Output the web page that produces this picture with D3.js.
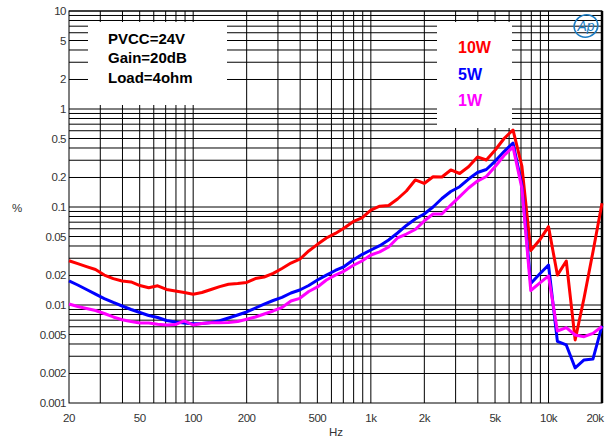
<!DOCTYPE html>
<html>
<head>
<meta charset="utf-8">
<script src="https://cdn.jsdelivr.net/npm/d3@7/dist/d3.min.js"></script>
<style>
  body { margin: 0; background: #fff; }
  svg { display: block; font-family: "Liberation Sans", Arial, sans-serif; }
</style>
</head>
<body>
<div id="chart"></div>
<script>
// sweep frequencies (Hz), 1/20 decade steps
var freqs = [20, 22.4, 25.1, 28.2, 31.6, 35.5, 39.8, 44.7, 50.1, 56.2,
    63.1, 70.8, 79.4, 89.1, 100, 112, 126, 141, 158, 178,
    200, 224, 251, 282, 316, 355, 398, 447, 501, 562,
    631, 708, 794, 891, 1000, 1122, 1259, 1413, 1585, 1778,
    1995, 2239, 2512, 2818, 3162, 3548, 3981, 4467, 5012, 5623,
    6310, 7079, 7943, 8913, 10000, 11220, 12589, 14125, 15849, 17783, 20000];

// THD+N in %
var thd10W = [0.0283, 0.0264, 0.0246, 0.0230, 0.0202, 0.0186, 0.0176, 0.0172, 0.0158, 0.0150,
    0.0157, 0.0144, 0.0139, 0.0134, 0.0129, 0.0134, 0.0144, 0.0154, 0.0163, 0.0166,
    0.0170, 0.0186, 0.0193, 0.0210, 0.0236, 0.0268, 0.0293, 0.0356, 0.0416, 0.0483,
    0.0537, 0.0611, 0.0708, 0.0773, 0.0931, 0.102, 0.1035, 0.1207, 0.1456, 0.1887,
    0.1738, 0.2038, 0.2023, 0.2387, 0.2198, 0.2576, 0.3236, 0.3020, 0.3819, 0.500,
    0.611, 0.262, 0.0360, 0.0460, 0.0630, 0.0202, 0.0281, 0.00440, 0.01178, 0.0348, 0.109];

var thd5W = [0.0176, 0.0160, 0.0144, 0.0129, 0.01164, 0.01061, 0.00977, 0.00900, 0.00838, 0.00781,
    0.00745, 0.00695, 0.00671, 0.00655, 0.00643, 0.00647, 0.00662, 0.00691, 0.00737, 0.00791,
    0.00849, 0.00932, 0.01023, 0.01111, 0.01194, 0.01325, 0.01422, 0.0158, 0.0180, 0.0202,
    0.0225, 0.0247, 0.0288, 0.0327, 0.0364, 0.0403, 0.0460, 0.0543, 0.0648, 0.0755,
    0.0849, 0.100, 0.122, 0.144, 0.161, 0.193, 0.225, 0.2415, 0.294, 0.368,
    0.450, 0.1675, 0.01656, 0.0207, 0.0256, 0.00425, 0.00391, 0.00228, 0.00275, 0.00281, 0.00611];

var thd1W = [0.01023, 0.00966, 0.00921, 0.00879, 0.00819, 0.00755, 0.00708, 0.00679, 0.00655, 0.00655,
    0.00635, 0.00625, 0.00632, 0.00687, 0.00625, 0.00647, 0.00659, 0.00659, 0.00662, 0.00679,
    0.00715, 0.00755, 0.00810, 0.00869, 0.00943, 0.0110, 0.01170, 0.01373, 0.01528, 0.0180,
    0.0202, 0.0222, 0.0253, 0.0281, 0.0324, 0.0348, 0.0391, 0.0483, 0.0530, 0.0589,
    0.0719, 0.0849, 0.0849, 0.1047, 0.1274, 0.1563, 0.184, 0.2046, 0.259, 0.3357,
    0.409, 0.156, 0.01406, 0.01675, 0.0198, 0.00543, 0.00589, 0.00494, 0.00475, 0.00514, 0.00604];

var seriesNames = ["10W", "5W", "1W"];
var seriesColors = ["#ff0000", "#0000ff", "#ff00ff"];

var xTickValues = [20, 50, 100, 200, 500, 1000, 2000, 5000, 10000, 20000];
var xTickLabels = ["20", "50", "100", "200", "500", "1k", "2k", "5k", "10k", "20k"];
var yTickValues = [10, 5, 2, 1, 0.5, 0.2, 0.1, 0.05, 0.02, 0.01, 0.005, 0.002, 0.001];
var yTickLabels = ["10", "5", "2", "1", "0.5", "0.2", "0.1", "0.05", "0.02", "0.01", "0.005", "0.002", "0.001"];

var conditions = ["PVCC=24V", "Gain=20dB", "Load=4ohm"];

var width = 606, height = 444;
var plotL = 69, plotR = 602, plotT = 11, plotB = 403;

var svg = d3.select("#chart").append("svg")
    .attr("width", width).attr("height", height);

var x = d3.scaleLog().domain([20, 20000]).range([plotL, plotR]);
var y = d3.scaleLog().domain([0.001, 10]).range([plotB, plotT]);

// log grid, 1..9 per decade
var gridX = [], gridY = [];
[10, 100, 1000, 10000].forEach(function(d) {
    for (var k = 1; k <= 9; k++) {
        var v = d * k;
        if (v > 20 && v < 20000) gridX.push(v);
    }
});
[0.001, 0.01, 0.1, 1].forEach(function(d) {
    for (var k = 1; k <= 9; k++) {
        var v = d * k;
        if (v > 0.001) gridY.push(v);
    }
});
gridY.push(10);

var grid = svg.append("g").attr("stroke", "#000").attr("stroke-width", 1);
grid.selectAll("line.gx").data(gridX).enter().append("line")
    .attr("class", "gx")
    .attr("x1", function(d) { return x(d); }).attr("x2", function(d) { return x(d); })
    .attr("y1", plotT).attr("y2", plotB);
grid.selectAll("line.gy").data(gridY).enter().append("line")
    .attr("class", "gy")
    .attr("x1", plotL).attr("x2", plotR)
    .attr("y1", function(d) { return y(d); }).attr("y2", function(d) { return y(d); });

// frame
svg.append("rect")
    .attr("x", plotL).attr("y", plotT)
    .attr("width", plotR - plotL).attr("height", plotB - plotT)
    .attr("fill", "none").attr("stroke", "#000").attr("stroke-width", 1);
svg.append("line")
    .attr("x1", plotR).attr("x2", plotR).attr("y1", plotT).attr("y2", plotB)
    .attr("stroke", "#000").attr("stroke-width", 2.5);

// white legend boxes over the grid
svg.append("rect").attr("x", 88).attr("y", 22).attr("width", 139).attr("height", 83).attr("fill", "#fff");
svg.append("rect").attr("x", 437).attr("y", 22).attr("width", 75).attr("height", 106).attr("fill", "#fff");

// curves
var line = d3.line()
    .x(function(d) { return x(d[0]); })
    .y(function(d) { return y(d[1]); });

var allSeries = [thd10W, thd5W, thd1W];
allSeries.forEach(function(vals, ii) {
    var pts = freqs.map(function(f, jj) { return [f, vals[jj]]; });
    svg.append("path")
        .datum(pts)
        .attr("d", line)
        .attr("fill", "none")
        .attr("stroke", seriesColors[ii])
        .attr("stroke-width", 3)
        .attr("stroke-linejoin", "round");
});

// axis labels
svg.selectAll("text.ytick").data(yTickValues).enter().append("text")
    .attr("class", "ytick")
    .attr("x", 66)
    .attr("y", function(d) { return y(d) + 4; })
    .attr("text-anchor", "end")
    .attr("font-size", "11.5px")
    .attr("letter-spacing", "-0.5px")
    .attr("fill", "#333")
    .text(function(d, i) { return yTickLabels[i]; });

svg.selectAll("text.xtick").data(xTickValues).enter().append("text")
    .attr("class", "xtick")
    .attr("x", function(d) { return Math.min(x(d), 595); })
    .attr("y", 422)
    .attr("text-anchor", "middle")
    .attr("font-size", "11.5px")
    .attr("letter-spacing", "-0.5px")
    .attr("fill", "#333")
    .text(function(d, i) { return xTickLabels[i]; });

svg.append("text").attr("x", 17).attr("y", 212).attr("text-anchor", "middle")
    .attr("font-size", "11.5px").attr("fill", "#333").text("%");
svg.append("text").attr("x", 336).attr("y", 436).attr("text-anchor", "middle")
    .attr("font-size", "11.5px").attr("fill", "#333").text("Hz");

// test conditions
svg.selectAll("text.cond").data(conditions).enter().append("text")
    .attr("class", "cond")
    .attr("x", 108)
    .attr("y", function(d, i) { return 44 + i * 19.3; })
    .attr("font-size", "15px").attr("font-weight", "bold").attr("fill", "#000")
    .text(function(d) { return d; });

// series legend
svg.selectAll("text.leg").data(seriesNames).enter().append("text")
    .attr("class", "leg")
    .attr("x", 458)
    .attr("y", function(d, i) { return 53.3 + i * 26.2; })
    .attr("font-size", "16px").attr("font-weight", "bold")
    .attr("fill", function(d, i) { return seriesColors[i]; })
    .text(function(d) { return d; });

// AP logo
var logo = svg.append("g").attr("transform", "translate(586,26)");
logo.append("ellipse").attr("rx", 12).attr("ry", 11)
    .attr("fill", "none").attr("stroke", "#1a7cc4").attr("stroke-width", 1.5)
    .attr("transform", "rotate(-20)");
logo.append("text").attr("x", 0).attr("y", 5).attr("text-anchor", "middle")
    .attr("font-size", "14px").attr("font-style", "italic")
    .attr("fill", "#1a7cc4").text("Ap");
</script>
</body>
</html>
